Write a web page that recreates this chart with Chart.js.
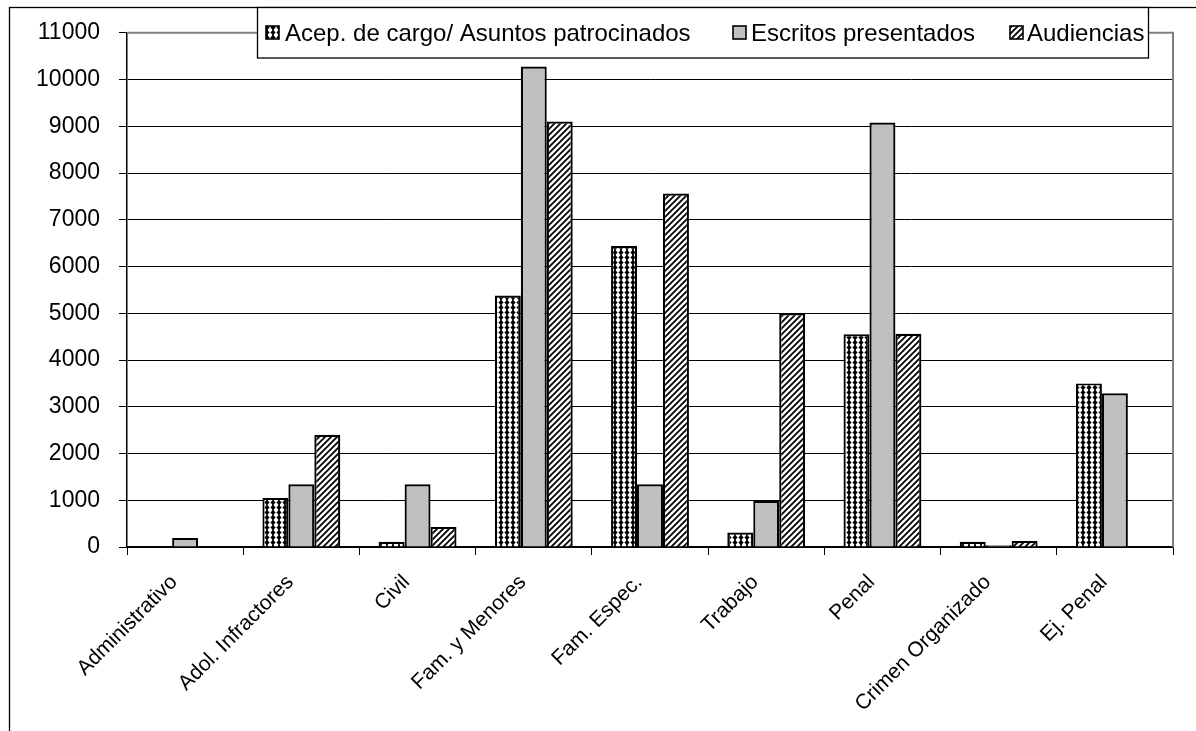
<!DOCTYPE html>
<html>
<head>
<meta charset="utf-8">
<script src="https://cdn.jsdelivr.net/npm/chart.js@4.4.1/dist/chart.umd.min.js"></script>
<style>
  html, body { margin: 0; padding: 0; background: #fff; }
  #wrap { width: 1196px; height: 731px; position: relative; }
</style>
</head>
<body>
<div id="wrap"><canvas id="c" width="1196" height="731"></canvas></div>
<script>
const categories = ["Administrativo", "Adol. Infractores", "Civil", "Fam. y Menores", "Fam. Espec.", "Trabajo", "Penal", "Crimen Organizado", "Ej. Penal"];
const seriesNames = ["Acep. de cargo/ Asuntos patrocinados", "Escritos presentados", "Audiencias"];
const acepCargo = [0, 1050, 110, 5380, 6440, 310, 4550, 110, 3500];
const escritos = [190, 1340, 1340, 10280, 1340, 990, 9080, 40, 3290];
const audiencias = [0, 2400, 430, 9100, 7560, 5000, 4560, 130, 0];
const yTicks = [0, 1000, 2000, 3000, 4000, 5000, 6000, 7000, 8000, 9000, 10000, 11000];

const FONT = "'Liberation Sans', Arial, sans-serif";
const canvas = document.getElementById('c');
const ctx = canvas.getContext('2d');

function dotPattern() {
  const c = document.createElement('canvas'); c.width = 6; c.height = 5;
  const g = c.getContext('2d');
  g.fillStyle = '#fff'; g.fillRect(0, 0, 6, 5);
  g.fillStyle = '#000';
  g.beginPath();
  g.moveTo(3, -0.3); g.lineTo(5.6, 2.5); g.lineTo(3, 5.3); g.lineTo(0.4, 2.5); g.closePath();
  g.fill();
  g.fillRect(2.4, 0, 1.2, 5);
  return ctx.createPattern(c, 'repeat');
}
function hatchPattern() {
  const c = document.createElement('canvas'); c.width = 6; c.height = 6;
  const g = c.getContext('2d');
  g.fillStyle = '#fff'; g.fillRect(0, 0, 6, 6);
  g.strokeStyle = '#000'; g.lineWidth = 1.8;
  g.beginPath();
  g.moveTo(-1, 7); g.lineTo(7, -1);
  g.moveTo(-1, 1); g.lineTo(1, -1);
  g.moveTo(5, 7); g.lineTo(7, 5);
  g.stroke();
  return ctx.createPattern(c, 'repeat');
}
const fills = [dotPattern(), '#C0C0C0', hatchPattern()];
const seriesData = [acepCargo, escritos, audiencias];

const frame = {
  id: 'frame',
  beforeDraw(chart) {
    const g = chart.ctx;
    g.save();
    g.fillStyle = '#fff'; g.fillRect(0, 0, chart.width, chart.height);
    g.strokeStyle = '#000'; g.lineWidth = 1.3;
    g.strokeRect(9.5, 7.5, chart.width + 20, chart.height + 20);
    g.restore();
  },
  afterDraw(chart) {
    const g = chart.ctx;
    const a = chart.chartArea;
    g.save();
    g.strokeStyle = '#808080'; g.lineWidth = 2;
    g.beginPath();
    g.moveTo(a.left, a.top); g.lineTo(a.right, a.top); g.lineTo(a.right, a.bottom);
    g.stroke();
    const lx = 257, ly = 7.5, lw = 891, lh = 50.5;
    g.fillStyle = '#fff'; g.fillRect(lx, ly, lw, lh);
    g.strokeStyle = '#000'; g.lineWidth = 1.3;
    g.strokeRect(lx + 0.5, ly, lw, lh);
    const swX = [266, 733, 1010];
    const txX = [285, 751, 1027];
    g.font = '24px ' + FONT;
    g.textBaseline = 'alphabetic';
    g.textAlign = 'left';
    chart.data.datasets.forEach((ds, i) => {
      g.fillStyle = ds.backgroundColor;
      g.fillRect(swX[i], 26, 13, 13);
      g.strokeStyle = '#000'; g.lineWidth = 1.6;
      g.strokeRect(swX[i], 26, 13, 13);
      g.fillStyle = '#000';
      g.fillText(ds.label, txX[i], 41);
    });
    g.restore();
  }
};

new Chart(canvas, {
  type: 'bar',
  data: {
    labels: categories,
    datasets: seriesNames.map((n, i) => ({
      label: n,
      data: seriesData[i],
      backgroundColor: fills[i],
      borderColor: '#000',
      borderWidth: 2.2,
      categoryPercentage: 0.67,
      barPercentage: 1.0
    }))
  },
  options: {
    responsive: false,
    animation: false,
    devicePixelRatio: 1,
    layout: { padding: { left: 0, top: 30, right: 23, bottom: 0 } },
    plugins: { legend: { display: false }, tooltip: { enabled: false } },
    scales: {
      x: {
        grid: { display: true, drawOnChartArea: false, offset: true, tickLength: 8, color: '#000', tickColor: '#000' },
        border: { color: '#000', width: 1.5 },
        ticks: { minRotation: 45, maxRotation: 45, autoSkip: false, color: '#000', font: { family: FONT, size: 21 }, padding: 15, labelOffset: -11 },
        afterFit(s) { s.height = 184; }
      },
      y: {
        min: 0, max: 11000,
        afterBuildTicks(s) { s.ticks = yTicks.map(v => ({ value: v })); },
        grid: { color: '#000', lineWidth: 1, tickLength: 8, tickColor: '#000' },
        border: { color: '#000', width: 1.5 },
        ticks: { color: '#000', font: { family: FONT, size: 23 }, padding: 19, callback: v => String(v) },
        afterFit(s) { s.width = 127; }
      }
    }
  },
  plugins: [frame]
});
</script>
</body>
</html>
